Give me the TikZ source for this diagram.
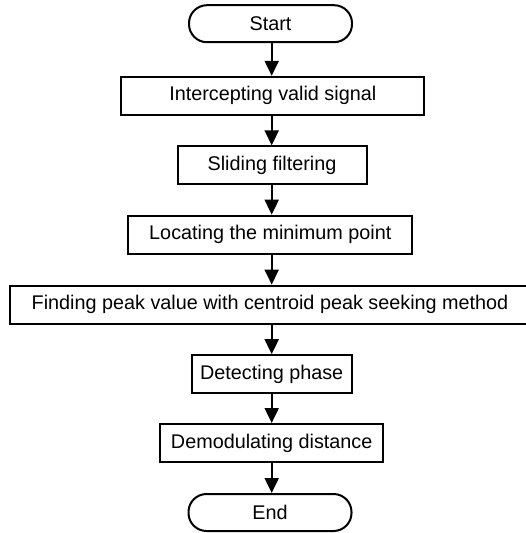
\documentclass[tikz,border=0pt]{standalone}
\usepackage{fontspec}
\setmainfont{Liberation Sans}
\usetikzlibrary{arrows.meta}
\begin{document}
\begin{tikzpicture}[x=1pt,y=1pt,
  every node/.style={font=\fontsize{19.8}{24}\selectfont, inner sep=0pt},
  procbox/.style={draw, line width=2pt, rectangle, minimum height=38pt},
  termbox/.style={draw, line width=2pt, rectangle, rounded corners=18pt, minimum height=37pt, minimum width=163pt},
  flow/.style={line width=2pt, -{Triangle[width=14pt,length=15pt]}}
]
\useasboundingbox (0,0) rectangle (525,-533);
\node[termbox] (start) at (270.5,-23.7) {Start};
\node[procbox, minimum width=303pt] (intercept) at (272.8,-95.8) {Intercepting valid signal};
\node[procbox, minimum width=189pt] (slide) at (272,-165.4) {Sliding filtering};
\node[procbox, minimum width=284pt] (locate) at (270.3,-234.7) {Locating the minimum point};
\node[procbox, minimum width=520pt] (find) at (270,-304.6) {Finding peak value with centroid peak seeking method};
\node[procbox, minimum width=160pt] (detect) at (271.7,-374.2) {Detecting phase};
\node[procbox, minimum width=223pt] (demod) at (271.7,-443) {Demodulating distance};
\node[termbox] (end) at (270,-512.5) {End};
\foreach \a/\b in {start/intercept,intercept/slide,slide/locate,locate/find,find/detect,detect/demod,demod/end}{
  \draw[flow] (\a.south -| 271.7,0) -- (\b.north -| 271.7,0);
}
\end{tikzpicture}
\end{document}
